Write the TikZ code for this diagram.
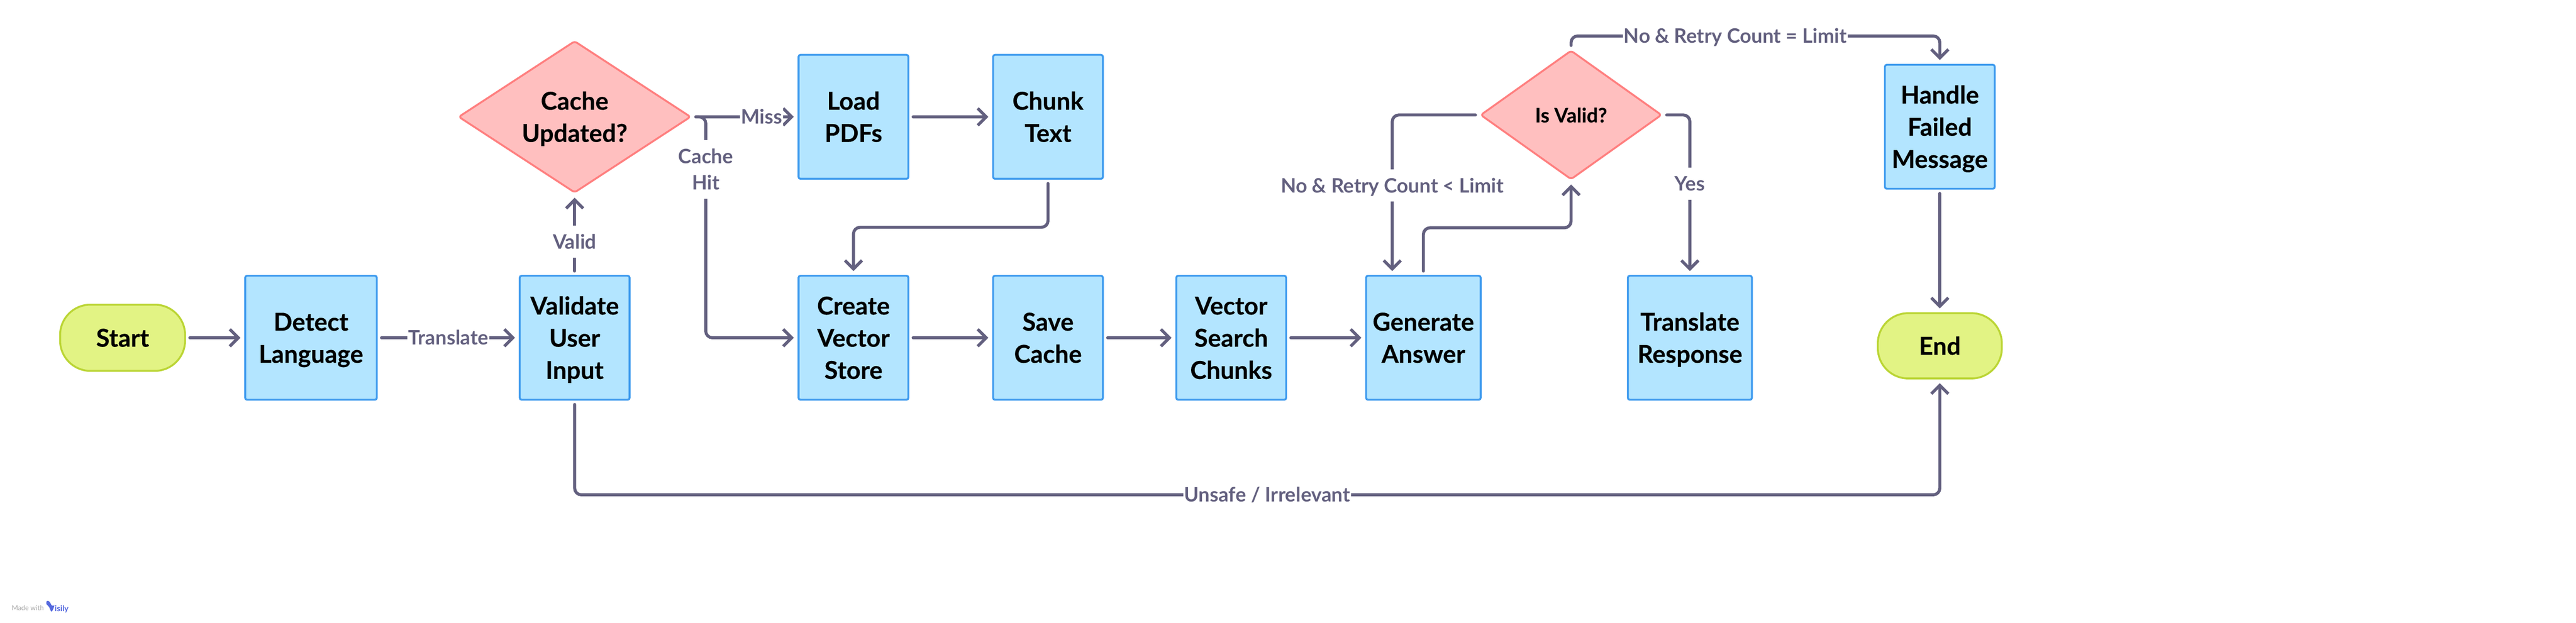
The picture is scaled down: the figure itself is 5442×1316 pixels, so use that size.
\documentclass[tikz,border=0pt]{standalone}
\usepackage{fontspec}
\setmainfont{Lato}
\newfontfamily\stepfont{Lato}[BoldFeatures={FakeBold=.3}]
\usetikzlibrary{arrows.meta,shapes.geometric,calc}
\definecolor{boxfill}{HTML}{B3E5FF}
\definecolor{boxline}{HTML}{3F9BEE}
\definecolor{decfill}{HTML}{FFBFBF}
\definecolor{decline}{HTML}{FF7F7F}
\definecolor{pillfill}{HTML}{E2F384}
\definecolor{pillline}{HTML}{BBD535}
\definecolor{linkcol}{HTML}{63607F}
\definecolor{logoblue}{HTML}{5468DE}
\newcommand\linesof[1]{\begin{tabular}{@{}c@{}}\rule{0pt}{1.12em}#1\end{tabular}}
\tikzset{
	steptext/.style={font=\fontsize{13}{17}\selectfont\stepfont\bfseries},
	stepbox/.style={steptext, draw=boxline, fill=boxfill, line width=1pt, rounded corners=1pt, minimum height=65.5pt, minimum width=#1, inner sep=0pt, outer sep=2.5pt},
	stepbox/.default=58pt,
	pill/.style={steptext, draw=pillline, fill=pillfill, line width=1pt, rounded corners=16pt, minimum height=#1, minimum width=66pt, inner sep=0pt, outer sep=2.5pt},
	decision/.style={steptext, diamond, draw=decline, fill=decfill, line width=1pt, rounded corners=1.5pt, aspect=1.5, inner sep=0pt, outer sep=2pt},
	lab/.style={fill=white, text=linkcol, inner xsep=.5pt, inner ysep=.5pt, font=\fontsize{10.5}{14}\selectfont\bfseries},
	link/.style={color=linkcol, line width=1.6pt, line cap=round, rounded corners=3.5pt, -{Straight Barb[length=4.5pt,width=9pt]}},
}
\begin{document}
\begin{tikzpicture}[x=.25pt,y=-.25pt]
	\useasboundingbox (0,0) rectangle (5442,1316);
	\node (start) [pill=35pt] at (259,714) {\linesof{Start}};
	\node (detect) [stepbox=69.5pt] at (657,714) {\linesof{Detect\\Language}};
	\node (validate) [stepbox] at (1214,714) {\linesof{Validate\\User\\Input}};
	\node (cache) [decision, minimum width=124pt, minimum height=81.5pt] at (1214,247) {\linesof{Cache\\Updated?}};
	\node (load) [stepbox] at (1803,247) {\linesof{Load\\PDFs}};
	\node (chunk) [stepbox] at (2214,247) {\linesof{Chunk\\Text}};
	\node (create) [stepbox] at (1803,714) {\linesof{Create\\Vector\\Store}};
	\node (save) [stepbox] at (2214,714) {\linesof{Save\\Cache}};
	\node (search) [stepbox] at (2601,714) {\linesof{Vector\\Search\\Chunks}};
	\node (generate) [stepbox=60.5pt] at (3007,714) {\linesof{Generate\\Answer}};
	\node (isvalid) [decision, minimum width=97pt, minimum height=69.5pt, font=\fontsize{10.5}{13}\selectfont\stepfont\bfseries] at (3319,243) {\linesof{Is Valid?}};
	\node (translate) [stepbox=65.5pt] at (3570,714) {\linesof{Translate\\Response}};
	\node (handle) [stepbox] at (4098,268) {\linesof{Handle\\Failed\\Message}};
	\node (finish) [pill=34.5pt, minimum width=65.5pt] at (4098,731) {\linesof{End}};
	\coordinate (hitbend) at (1491,358);
	\coordinate (toprun) at (3666,76);
	\coordinate (lowrun) at (2677,1046);
	\path[link]
	(start) edge (detect)
	(detect) edge node (ltranslate) [lab] {\linesof{Translate}} (validate)
	(validate) edge node (lvalid) [lab, pos=.40] {\linesof{Valid}} (cache)
	(cache.east) edge node (lmiss) [lab, pos=.67] {\linesof{Miss}} (load.west)
	(load) edge (chunk)
	(create) edge (save)
	(save) edge (search)
	(search) edge (generate)
	(handle) edge (finish)
	;
	\draw[link] (cache.east) -| (hitbend) node (lhit) [lab] {\linesof{Cache\\Hit}} |- (create.west);
	\draw[link] (chunk.south) |- ($(chunk.south)!.5!(create.north)$) -| (create.north);
	\draw[link] (generate.north) |- ($(generate.north)!.5!(isvalid.south)$) -| (isvalid.south);
	\draw[link] (isvalid.west) -| node (lretry) [lab, pos=.726] {\linesof{No \& Retry Count < Limit}} (generate.115);
	\draw[link] (isvalid.east) -| node (lyes) [lab, pos=.72] {\linesof{Yes}} (translate.north);
	\draw[link] (isvalid.north) |- (toprun) node (llimit) [lab] {\linesof{No \& Retry Count = Limit}} -| (handle.north);
	\draw[link] (validate.south) |- (lowrun) node (lunsafe) [lab] {\linesof{Unsafe / Irrelevant}} -| (finish.south);
	\node (made) [text=gray!70, inner sep=0pt, anchor=west, font=\fontsize{3.6}{4}\selectfont] at (24,1285) {Made with};
	\node (visily) [text=logoblue, inner sep=0pt, anchor=base west, font=\fontsize{4.2}{5}\selectfont\bfseries] at (115,1293) {isily};
	\fill[logoblue] (98,1272) .. controls (100,1268) and (105,1270) .. (108,1278) .. controls (110,1282) and (113,1280) .. (115,1280) .. controls (113,1286) and (112,1290) .. (109,1293) .. controls (106,1292) and (106,1284) .. (101,1280) .. controls (98,1278) and (97,1275) .. (98,1272);
\end{tikzpicture}
\end{document}
